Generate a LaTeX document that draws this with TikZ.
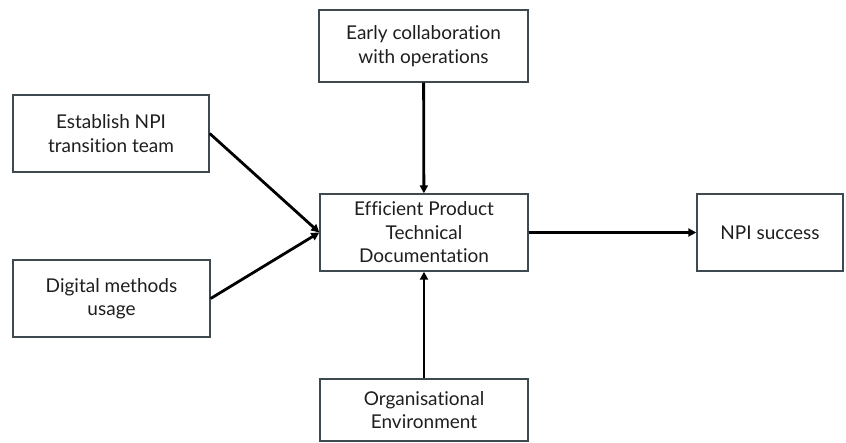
\documentclass[tikz,border=0pt]{standalone}
\usepackage{fontspec}
\setmainfont{Lato}[Ligatures={NoCommon,NoRare,NoDiscretionary}]
\usetikzlibrary{arrows.meta}
\definecolor{boxline}{HTML}{3E4A50}
\definecolor{txt}{HTML}{1E1E1E}
\begin{document}
\begin{tikzpicture}[x=1pt,y=-1pt,
  box/.style={draw=boxline,line width=1.4pt,rectangle,align=center,
    text=txt,font=\fontsize{19}{23.5}\selectfont,inner sep=0pt},
  link/.style={line width=2.8pt,-{Triangle[length=8pt,width=8pt]}}]
\useasboundingbox (0,0) rectangle (846,443);
\node[box,minimum width=209,minimum height=72] (early) at (423.5,46) {Early collaboration\\with operations};
\node[box,minimum width=196,minimum height=77] (team) at (111,133.5) {Establish NPI\\transition team};
\node[box,minimum width=197,minimum height=77] (digital) at (111.5,298.5) {Digital methods\\usage};
\node[box,minimum width=208,minimum height=77] (doc) at (424,232.5) {Efficient Product\\Technical\\Documentation};
\node[box,minimum width=146,minimum height=77] (npi) at (770,232.5) {NPI success};
\node[box,minimum width=208,minimum height=62] (env) at (424,410) {Organisational\\Environment};
\draw[link] (early) -- (doc);
\draw[link] (env) -- (doc);
\draw[link] (team.east) -- (doc.west);
\draw[link] (digital.east) -- (doc.west);
\draw[link] (doc) -- (npi);
\end{tikzpicture}
\end{document}
